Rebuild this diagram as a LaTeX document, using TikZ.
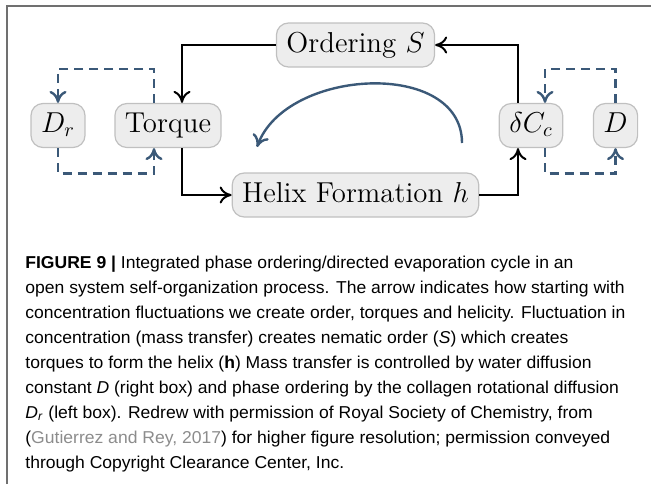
\documentclass[tikz,border=0pt]{standalone}
\usepackage{fontspec}
\usepackage{xcolor}
\usepackage{amsmath}
\usepackage{tikz}
\usetikzlibrary{positioning}
\usetikzlibrary{arrows.meta}
\usetikzlibrary{calc}

\newfontfamily\capfont[FakeStretch=1.02]{Liberation Sans}

\definecolor{boxfill}{RGB}{237,237,237}
\definecolor{boxline}{RGB}{192,192,192}
\definecolor{loopblue}{RGB}{59,89,120}
\definecolor{framegray}{RGB}{112,112,112}
\definecolor{linkgray}{RGB}{140,140,140}

\tikzset{
  box/.style={draw=boxline, fill=boxfill, rounded corners=6pt, line width=0.6pt,
    inner xsep=5pt, inner ysep=4pt, text height=10.5pt, text depth=3.5pt,
    font=\fontsize{14.4}{17}\selectfont},
  arr/.style={line width=1pt, -{Computer Modern Rightarrow[length=6pt,width=8.5pt]}},
  loopline/.style={loopblue, line width=1.2pt, dash pattern=on 4.5pt off 3pt,
    -{Computer Modern Rightarrow[length=6pt,width=8.5pt]}},
  cycle/.style={loopblue, line width=1.2pt,
    -{Computer Modern Rightarrow[length=6pt,width=8.5pt]}},
  frame/.style={framegray, line width=0.75pt}
}

\begin{document}
\begin{tikzpicture}[x=0.5pt, y=0.5pt]
\useasboundingbox (0,0) rectangle (651,484);

% frame of the figure
\draw[frame] (7,0) -- (7,478) -- (651,478);

\node[box] (ordering) at (355.5,439) {Ordering $S$};
\node[box] (torque) at (168,358.5) {Torque};
\node[box] (rotdiff) at (58,358.5) {$D_r$};
\node[box] (helix) at (355.5,289) {Helix Formation $h$};
\node[box] (dconc) at (531,358.5) {$\delta C_c$};
\node[box] (diff) at (615.5,358.5) {$D$};

% main cycle
\draw[arr] (ordering.west) -| ([xshift=7pt]torque.north);
\draw[arr] ([xshift=7pt]torque.south) |- (helix.west);
\draw[arr] (helix.east) -| ([xshift=-6.5pt]dconc.south);
\draw[arr] ([xshift=-6.5pt]dconc.north) |- (ordering.east);

% diffusion loops
\draw[loopline] ([xshift=-7pt]torque.north) -- ++(0,17pt) -| (rotdiff.north);
\draw[loopline] (rotdiff.south) -- ++(0,-12.75pt) -| ([xshift=-7pt]torque.south);
\draw[loopline] (diff.north) -- ++(0,17pt) -| ([xshift=7pt]dconc.north);
\draw[loopline] ([xshift=7pt]dconc.south) -- ++(0,-12.75pt) -| (diff.south);

% direction of the cycle
\coordinate (cycstart) at (462,341);
\coordinate (cycend) at (257,337);
\draw[cycle] (cycstart) to[out=90, in=70, looseness=1.05] (cycend);

% caption (base = last line)
\node[anchor=base west, inner sep=0pt, align=left,
  font=\capfont\fontsize{8.6}{12.5}\selectfont] (caption) at (25,16)
{\textbf{FIGURE 9 |} Integrated phase ordering/directed evaporation cycle in an\\
open system self-organization process. The arrow indicates how starting with\\
concentration fluctuations we create order, torques and helicity. Fluctuation in\\
concentration (mass transfer) creates nematic order (\textit{S}) which creates\\
torques to form the helix (\textbf{h}) Mass transfer is controlled by water diffusion\\
constant \textit{D} (right box) and phase ordering by the collagen rotational diffusion\\
\textit{D}\textsubscript{\textit{r}} (left box). Redrew with permission of Royal Society of Chemistry, from\\
({\color{linkgray}Gutierrez and Rey, 2017}) for higher figure resolution; permission conveyed\\
through Copyright Clearance Center, Inc.};
\end{tikzpicture}
\end{document}
